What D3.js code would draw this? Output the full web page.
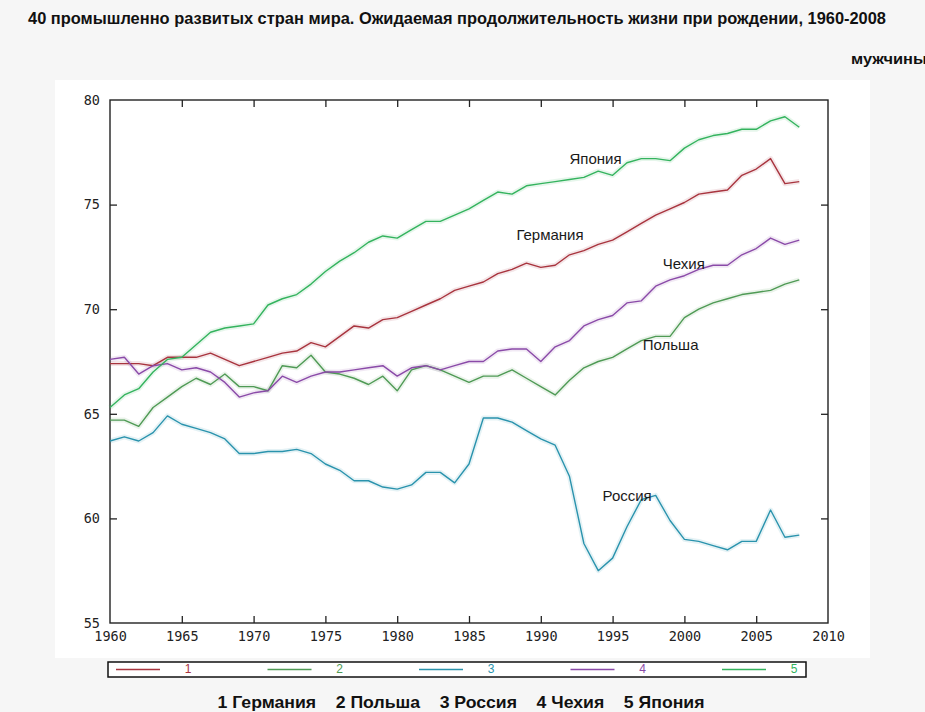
<!DOCTYPE html>
<html><head><meta charset="utf-8">
<script src="https://cdn.jsdelivr.net/npm/d3@7"></script>
<style>
html,body{margin:0;padding:0;background:#f6f6f6;}
svg{display:block;}
</style></head>
<body>
<svg id="chart" width="925" height="712"></svg>
<script>
const years = d3.range(1960, 2009);
const germany = [67.4,67.4,67.4,67.3,67.7,67.7,67.7,67.9,67.6,67.3,67.5,67.7,67.9,68.0,68.4,68.2,68.7,69.2,69.1,69.5,69.6,69.9,70.2,70.5,70.9,71.1,71.3,71.7,71.9,72.2,72.0,72.1,72.6,72.8,73.1,73.3,73.7,74.1,74.5,74.8,75.1,75.5,75.6,75.7,76.4,76.7,77.2,76.0,76.1];
const poland  = [64.7,64.7,64.4,65.3,65.8,66.3,66.7,66.4,66.9,66.3,66.3,66.1,67.3,67.2,67.8,67.0,66.9,66.7,66.4,66.8,66.1,67.1,67.3,67.1,66.8,66.5,66.8,66.8,67.1,66.7,66.3,65.9,66.6,67.2,67.5,67.7,68.1,68.5,68.7,68.7,69.6,70.0,70.3,70.5,70.7,70.8,70.9,71.2,71.4];
const russia  = [63.7,63.9,63.7,64.1,64.9,64.5,64.3,64.1,63.8,63.1,63.1,63.2,63.2,63.3,63.1,62.6,62.3,61.8,61.8,61.5,61.4,61.6,62.2,62.2,61.7,62.6,64.8,64.8,64.6,64.2,63.8,63.5,62.0,58.8,57.5,58.1,59.6,60.9,61.1,59.9,59.0,58.9,58.7,58.5,58.9,58.9,60.4,59.1,59.2];
const czech   = [67.6,67.7,66.9,67.3,67.4,67.1,67.2,67.0,66.5,65.8,66.0,66.1,66.8,66.5,66.8,67.0,67.0,67.1,67.2,67.3,66.8,67.2,67.3,67.1,67.3,67.5,67.5,68.0,68.1,68.1,67.5,68.2,68.5,69.2,69.5,69.7,70.3,70.4,71.1,71.4,71.6,71.9,72.1,72.1,72.6,72.9,73.4,73.1,73.3];
const japan   = [65.3,65.9,66.2,67.0,67.6,67.7,68.3,68.9,69.1,69.2,69.3,70.2,70.5,70.7,71.2,71.8,72.3,72.7,73.2,73.5,73.4,73.8,74.2,74.2,74.5,74.8,75.2,75.6,75.5,75.9,76.0,76.1,76.2,76.3,76.6,76.4,77.0,77.2,77.2,77.1,77.7,78.1,78.3,78.4,78.6,78.6,79.0,79.2,78.7];

const seriesNames = ["Германия","Польша","Россия","Чехия","Япония"];
const seriesValues = [germany, poland, russia, czech, japan];
const seriesColors = ["#a8343e","#4f9a55","#2a93ad","#8a4aa8","#34b35e"];
const legendNumbers = ["1","2","3","4","5"];
const xTicks = d3.range(1960, 2011, 5);
const yTicks = d3.range(55, 81, 5);
const titleText = "40 промышленно развитых стран мира. Ожидаемая продолжительность жизни при рождении, 1960-2008";
const subtitleText = "мужчины";
const footerText = "1 Германия    2 Польша    3 Россия    4 Чехия    5 Япония";
// in-plot name labels, anchored in data units (year, value)
const lineLabels = [
  {name:"Япония", year:1992.0, value:77.13},
  {name:"Германия", year:1988.3, value:73.5},
  {name:"Чехия", year:1998.5, value:72.1},
  {name:"Польша", year:1997.1, value:68.24},
  {name:"Россия", year:1994.3, value:61.02}
];

const svg = d3.select("#chart");
const L = 110, R = 828, T = 100, B = 623;
const x = d3.scaleLinear().domain([1960, 2010]).range([L, R]);
const y = d3.scaleLinear().domain([55, 80]).range([B, T]);

svg.append("rect").attr("x", 0).attr("y", 0).attr("width", 925).attr("height", 712).attr("fill", "#f6f6f6");
svg.append("rect").attr("x", 55).attr("y", 80).attr("width", 815).attr("height", 578).attr("fill", "#ffffff");

const narrow = "'Liberation Sans Narrow','Arial Narrow','Liberation Sans',sans-serif";
svg.append("text").attr("x", 28).attr("y", 24)
  .attr("font-family", narrow).attr("font-weight", "bold").attr("font-size", 16).attr("fill", "#111")
  .attr("textLength", 858).attr("lengthAdjust", "spacingAndGlyphs")
  .text(titleText);
svg.append("text").attr("x", 851).attr("y", 64)
  .attr("font-family", narrow).attr("font-weight", "bold").attr("font-size", 15).attr("fill", "#111")
  .attr("textLength", 76).attr("lengthAdjust", "spacingAndGlyphs")
  .text(subtitleText);

const tickLen = 7;
const axisFont = "'DejaVu Sans Mono','Liberation Mono',monospace";
const gBottom = svg.append("g").attr("transform", `translate(0,${B})`)
  .call(d3.axisBottom(x).tickValues(xTicks).tickFormat(d3.format("d")).tickSizeInner(-tickLen).tickSizeOuter(0).tickPadding(8));
const gTop = svg.append("g").attr("transform", `translate(0,${T})`)
  .call(d3.axisTop(x).tickValues(xTicks).tickFormat("").tickSizeInner(-tickLen).tickSizeOuter(0));
const gLeft = svg.append("g").attr("transform", `translate(${L},0)`)
  .call(d3.axisLeft(y).tickValues(yTicks).tickFormat(d3.format("d")).tickSizeInner(-tickLen).tickSizeOuter(0).tickPadding(10));
const gRight = svg.append("g").attr("transform", `translate(${R},0)`)
  .call(d3.axisRight(y).tickValues(yTicks).tickFormat("").tickSizeInner(-tickLen).tickSizeOuter(0));
[gBottom, gTop, gLeft, gRight].forEach(g => {
  g.select(".domain").remove();
  g.selectAll(".tick line").attr("stroke", "#222").attr("stroke-width", 1.3);
  g.selectAll("text").attr("font-family", axisFont).attr("font-size", 13.5).attr("fill", "#222");
});
gLeft.selectAll(".tick").filter(d => d === 55 || d === 80).select("line").remove();
gRight.selectAll(".tick").filter(d => d === 55 || d === 80).select("line").remove();
gBottom.selectAll(".tick").filter(d => d === 1960 || d === 2010).select("line").remove();
gTop.selectAll(".tick").filter(d => d === 1960 || d === 2010).select("line").remove();

svg.append("rect").attr("x", L).attr("y", T).attr("width", R - L).attr("height", B - T)
  .attr("fill", "none").attr("stroke", "#222").attr("stroke-width", 1.4);

const line = d3.line().x((d, i) => x(years[i])).y(d => y(d));
const gLines = svg.append("g");
seriesValues.forEach((vals, k) => {
  gLines.append("path").datum(vals).attr("d", line)
    .attr("fill", "none").attr("stroke", seriesColors[k]).attr("stroke-width", 5)
    .attr("stroke-opacity", 0.12).attr("stroke-linejoin", "round");
});
seriesValues.forEach((vals, k) => {
  gLines.append("path").datum(vals).attr("d", line)
    .attr("fill", "none").attr("stroke", seriesColors[k]).attr("stroke-width", 1.4)
    .attr("stroke-linejoin", "round");
});

svg.append("g").selectAll("text").data(lineLabels).join("text")
  .attr("x", d => x(d.year)).attr("y", d => y(d.value))
  .attr("font-family", "'Liberation Sans',Arial,sans-serif").attr("font-size", 15).attr("fill", "#1a1a1a")
  .attr("dominant-baseline", "middle")
  .text(d => d.name);

const legX = 108, legY = 662, legW = 698, legH = 15;
svg.append("rect").attr("x", legX).attr("y", legY).attr("width", legW).attr("height", legH)
  .attr("fill", "#fff").attr("stroke", "#111").attr("stroke-width", 1.5);
const legStep = 151.5;
const legItems = svg.append("g").selectAll("g").data(legendNumbers).join("g")
  .attr("transform", (d, i) => `translate(${116 + i * legStep},${legY + legH / 2})`);
legItems.append("line").attr("x1", 0).attr("x2", 44).attr("y1", 0).attr("y2", 0)
  .attr("stroke", (d, i) => seriesColors[i]).attr("stroke-width", 1.5);
legItems.append("text").attr("x", 72).attr("y", 0).attr("dominant-baseline", "middle")
  .attr("text-anchor", "middle")
  .attr("font-family", "'Liberation Sans',Arial,sans-serif").attr("font-size", 12)
  .attr("fill", (d, i) => seriesColors[i]).text(d => d);

svg.append("text").attr("x", 461).attr("y", 708).attr("text-anchor", "middle")
  .attr("font-family", narrow).attr("font-weight", "bold").attr("font-size", 17).attr("fill", "#111")
  .attr("xml:space", "preserve").style("white-space", "pre")
  .attr("textLength", 487).attr("lengthAdjust", "spacingAndGlyphs")
  .text(footerText);
</script>
</body></html>
